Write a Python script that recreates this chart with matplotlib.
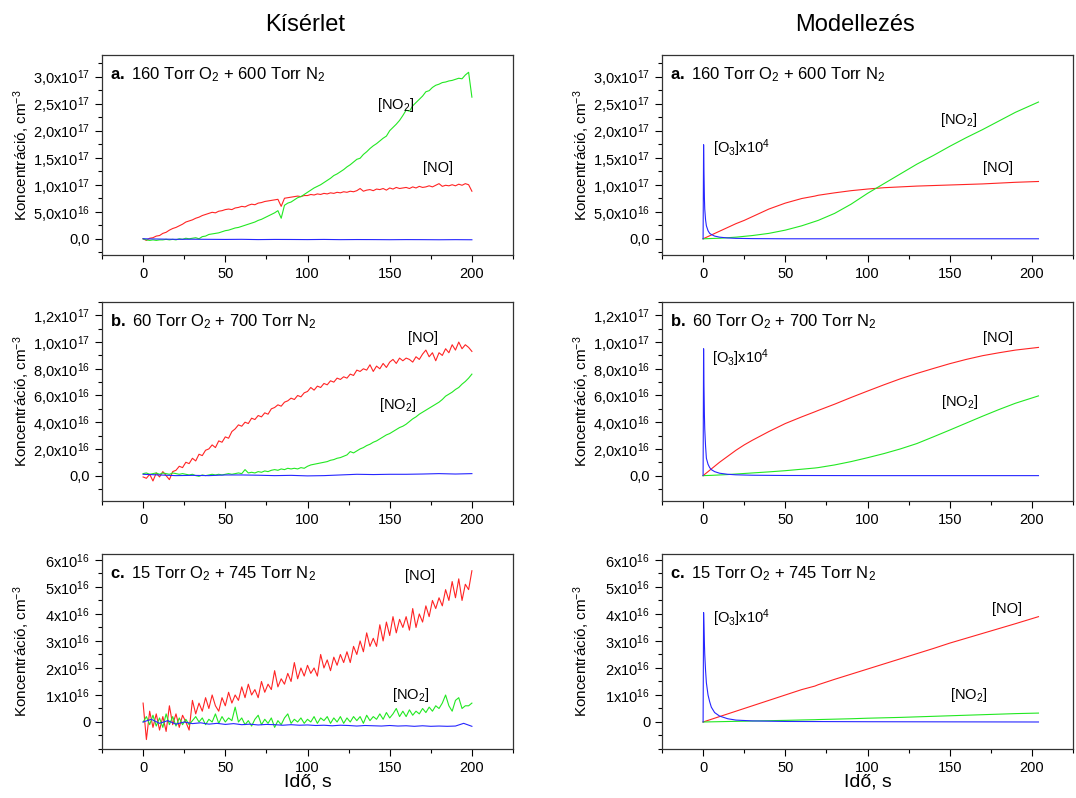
import numpy as np
import matplotlib
matplotlib.use("Agg")
import matplotlib.pyplot as plt
from matplotlib.ticker import FuncFormatter, MultipleLocator

plt.rcParams['font.family'] = ['Liberation Sans', 'DejaVu Sans']
plt.rcParams['mathtext.fontset'] = 'custom'
plt.rcParams['mathtext.rm'] = 'Liberation Sans'
plt.rcParams['mathtext.it'] = 'Liberation Sans:italic'
plt.rcParams['mathtext.bf'] = 'Liberation Sans:bold'

RED = '#ff2424'
GREEN = '#22e822'
BLUE = '#2626ff'

# ---- measured data (Kísérlet) ----
t_exp = np.arange(0, 201, 2)       # s
t_exp_blue = np.arange(0, 201, 10)
t_exp_blue_c = np.arange(0, 201, 5)

# a. 160 Torr O2, units of 1e17 cm-3
exp_a_no = [0.00, -0.03, 0.01, 0.02, 0.05, 0.06, 0.10, 0.12, 0.16, 0.19,
            0.21, 0.24, 0.27, 0.31, 0.33, 0.35, 0.38, 0.40, 0.43, 0.45,
            0.47, 0.49, 0.48, 0.51, 0.52, 0.54, 0.55, 0.54, 0.57, 0.58,
            0.60, 0.59, 0.62, 0.64, 0.63, 0.66, 0.67, 0.69, 0.70, 0.71,
            0.72, 0.73, 0.60, 0.75, 0.76, 0.77, 0.78, 0.79, 0.78, 0.80,
            0.80, 0.82, 0.81, 0.83, 0.82, 0.84, 0.83, 0.85, 0.84, 0.86,
            0.85, 0.87, 0.86, 0.88, 0.87, 0.89, 0.93, 0.88, 0.90, 0.91,
            0.89, 0.92, 0.91, 0.93, 0.90, 0.94, 0.92, 0.95, 0.93, 0.94,
            0.95, 0.93, 0.96, 0.94, 0.97, 0.95, 0.96, 0.98, 0.96, 0.99,
            1.02, 0.97, 0.99, 0.98, 1.00, 0.98, 1.01, 0.99, 1.02, 1.00,
            0.88]
exp_a_no2 = [0.00, -0.02, -0.03, -0.02, -0.03, -0.02, -0.02, -0.01, -0.02, -0.01,
             -0.02, 0.00, -0.01, 0.01, 0.00, 0.01, 0.02, 0.00, 0.04, 0.05,
             0.08, 0.09, 0.10, 0.11, 0.13, 0.15, 0.16, 0.18, 0.20, 0.21,
             0.23, 0.25, 0.27, 0.29, 0.31, 0.34, 0.36, 0.39, 0.42, 0.45,
             0.48, 0.52, 0.38, 0.62, 0.66, 0.68, 0.72, 0.76, 0.78, 0.82,
             0.86, 0.90, 0.94, 0.97, 1.00, 1.04, 1.08, 1.12, 1.17, 1.20,
             1.24, 1.28, 1.33, 1.37, 1.42, 1.47, 1.49, 1.56, 1.61, 1.67,
             1.72, 1.76, 1.81, 1.86, 1.90, 2.00, 2.06, 2.12, 2.19, 2.28,
             2.38, 2.36, 2.46, 2.52, 2.58, 2.64, 2.72, 2.74, 2.80, 2.84,
             2.86, 2.89, 2.90, 2.92, 2.93, 2.95, 2.97, 2.96, 3.03, 3.08,
             2.62]
exp_a_o3 = [0.0, -0.005, -0.01, -0.008, -0.01, -0.012, -0.01, -0.015, -0.012, -0.013,
            -0.015, -0.012, -0.016, -0.014, -0.015, -0.017, -0.015, -0.016, -0.018, -0.016,
            -0.018]

# b. 60 Torr O2, units of 1e16 cm-3
exp_b_no = [-0.1, -0.2, 0.1, -0.4, 0.2, -0.1, 0.3, 0.0, -0.3, 0.3,
            0.4, 0.7, 0.6, 1.0, 0.9, 1.3, 1.1, 1.6, 1.5, 1.9,
            2.0, 2.3, 2.1, 2.6, 2.5, 2.9, 2.8, 3.3, 3.5, 3.8,
            3.7, 4.0, 3.9, 4.3, 4.2, 4.5, 4.4, 4.7, 4.6, 5.0,
            5.1, 5.3, 5.2, 5.5, 5.6, 5.8, 5.7, 6.0, 5.9, 6.2,
            6.3, 6.6, 6.4, 6.7, 6.6, 6.9, 6.8, 7.1, 7.0, 7.3,
            7.2, 7.4, 7.3, 7.6, 7.5, 7.9, 7.8, 8.0, 7.9, 8.3,
            7.8, 8.2, 8.0, 8.4, 8.1, 8.5, 8.7, 8.4, 8.8, 8.6,
            8.8, 8.7, 8.5, 8.9, 8.7, 9.1, 9.4, 8.9, 9.2, 8.6,
            9.2, 9.0, 9.5, 9.2, 9.8, 9.4, 10.0, 9.5, 9.8, 9.6,
            9.3]
exp_b_no2 = [0.15, 0.2, 0.1, 0.15, 0.2, 0.1, 0.2, 0.15, 0.1, 0.2,
             0.15, 0.1, 0.15, 0.1, 0.05, 0.1, 0.0, -0.05, 0.05, 0.0,
             0.05, 0.1, 0.05, 0.1, 0.05, 0.1, 0.15, 0.1, 0.15, 0.2,
             0.15, 0.45, 0.2, 0.25, 0.2, 0.3, 0.25, 0.35, 0.3, 0.4,
             0.45, 0.4, 0.5, 0.45, 0.55, 0.5, 0.55, 0.5, 0.6, 0.55,
             0.7, 0.8, 0.85, 0.9, 0.95, 1.0, 1.05, 1.15, 1.2, 1.3,
             1.35, 1.45, 1.55, 1.8, 1.7, 1.85, 2.0, 2.1, 2.25, 2.35,
             2.5, 2.6, 2.75, 2.9, 3.05, 3.15, 3.3, 3.45, 3.6, 3.7,
             3.85, 4.05, 4.25, 4.4, 4.6, 4.75, 4.9, 5.05, 5.2, 5.35,
             5.5, 5.7, 5.95, 6.1, 6.25, 6.45, 6.6, 6.85, 7.05, 7.3,
             7.6]
exp_b_o3 = [0.1, 0.05, 0.0, 0.02, 0.0, 0.05, 0.05, 0.03, 0.0, 0.02,
            -0.02, 0.0, 0.05, 0.1, 0.08, 0.1, 0.1, 0.12, 0.15, 0.12,
            0.15]

# c. 15 Torr O2, units of 1e16 cm-3
exp_c_no = [0.7, -0.65, 0.4, -0.2, 0.3, -0.3, 0.2, -0.35, 0.6, -0.1,
            0.3, -0.2, 0.25, 0.0, -0.3, 0.8, 0.3, 0.7, 0.4, 0.9,
            0.5, 1.0, 0.6, 0.4, 0.9, 0.6, 1.1, 0.7, 1.0, 0.8,
            1.3, 0.9, 1.4, 1.0, 1.2, 0.9, 1.5, 1.1, 1.4, 1.2,
            1.9, 1.3, 1.6, 1.4, 1.8, 1.5, 2.2, 1.6, 2.0, 1.7,
            2.1, 1.8, 2.0, 1.7, 2.5, 2.0, 2.3, 1.9, 2.4, 2.1,
            2.5, 2.2, 2.6, 2.2, 2.8, 2.5, 3.0, 2.6, 3.3, 2.8,
            3.1, 2.8, 3.6, 3.0, 3.7, 3.2, 3.9, 3.3, 3.8, 3.5,
            3.9, 3.4, 4.2, 3.5, 4.0, 3.7, 4.3, 3.9, 4.5, 4.2,
            4.6, 4.3, 4.9, 4.5, 5.2, 4.6, 5.3, 4.5, 5.1, 4.9,
            5.6]
exp_c_no2 = [0.0, 0.2, -0.1, 0.25, -0.15, 0.15, -0.2, 0.3, -0.1, 0.2,
             -0.15, 0.15, -0.1, 0.1, -0.1, 0.05, 0.2, 0.0, 0.15, -0.1,
             0.1, 0.0, 0.3, -0.05, 0.2, 0.0, 0.15, 0.05, 0.55, 0.0,
             0.15, -0.1, 0.05, -0.15, 0.1, 0.25, -0.1, 0.1, -0.05, 0.15,
             -0.2, 0.05, -0.1, 0.15, 0.3, -0.05, 0.1, 0.0, 0.15, -0.05,
             0.1, 0.0, 0.2, -0.05, 0.15, 0.05, 0.2, -0.05, 0.15, 0.0,
             0.2, -0.05, 0.15, 0.0, 0.2, 0.05, 0.2, -0.05, 0.25, 0.05,
             0.2, 0.1, 0.3, 0.1, 0.35, 0.15, 0.3, 0.5, 0.2, 0.4,
             0.2, 0.45, 0.25, 0.4, 0.3, 0.5, 0.35, 0.55, 0.4, 0.6,
             0.5, 0.7, 1.0, 0.6, 0.4, 0.8, 0.9, 0.5, 0.6, 0.6,
             0.7]
exp_c_o3 = [0.0, 0.1, -0.05, 0.05, -0.08, 0.0, -0.06, -0.03, -0.08, -0.05,
            -0.09, -0.06, -0.1, -0.08, -0.11, -0.09, -0.1, -0.12, -0.1, -0.12,
            -0.11, -0.13, -0.12, -0.14, -0.12, -0.13, -0.15, -0.13, -0.14, -0.15,
            -0.13, -0.15, -0.14, -0.16, -0.14, -0.16, -0.15, -0.16, -0.15, -0.05,
            -0.16]

# ---- model results (Modellezés) ----
t_mod = [0, 5, 10, 15, 20, 25, 30, 40, 50, 60, 68, 70, 80, 90, 100, 110,
         120, 130, 140, 150, 160, 170, 180, 190, 204]
t_o3 = [0, 0.3, 0.5, 0.8, 1, 1.5, 2, 3, 4, 5, 7, 10, 15, 20, 30, 50, 100, 204]

# units of 1e17
mod_a_no = [0, 0.07, 0.14, 0.21, 0.28, 0.34, 0.41, 0.55, 0.66, 0.745, 0.79, 0.805,
            0.85, 0.89, 0.92, 0.945, 0.96, 0.975, 0.985, 0.995, 1.005, 1.015,
            1.03, 1.045, 1.06]
mod_a_no2 = [0, 0.005, 0.01, 0.02, 0.03, 0.045, 0.06, 0.10, 0.16, 0.24, 0.32, 0.34,
             0.47, 0.64, 0.84, 1.02, 1.2, 1.38, 1.54, 1.71, 1.87, 2.02,
             2.18, 2.34, 2.53]
mod_a_o3 = [0, 1.74, 1.3, 0.75, 0.55, 0.35, 0.24, 0.15, 0.1, 0.08, 0.05, 0.03,
            0.015, 0.008, 0.003, 0.0, 0.0, 0.0]

# units of 1e16
mod_b_no = [0, 0.5, 1.0, 1.45, 1.9, 2.3, 2.65, 3.3, 3.9, 4.4, 4.78, 4.88,
            5.35, 5.85, 6.33, 6.8, 7.25, 7.65, 8.02, 8.38, 8.7, 8.98,
            9.2, 9.4, 9.6]
mod_b_no2 = [0, 0.02, 0.05, 0.08, 0.12, 0.16, 0.2, 0.28, 0.37, 0.48, 0.57, 0.6,
             0.8, 1.05, 1.34, 1.65, 2.0, 2.4, 2.9, 3.41, 3.93, 4.45,
             4.95, 5.42, 5.97]
mod_b_o3 = [0, 9.5, 7.0, 4.5, 3.5, 2.2, 1.3, 0.85, 0.6, 0.45, 0.3, 0.18,
            0.1, 0.06, 0.03, 0.01, 0.0, 0.0]

mod_c_no = [0, 0.1, 0.2, 0.3, 0.4, 0.5, 0.6, 0.8, 1.0, 1.2, 1.33, 1.38,
            1.58, 1.77, 1.96, 2.15, 2.34, 2.53, 2.72, 2.92, 3.1, 3.28,
            3.46, 3.64, 3.9]
mod_c_no2 = [0, 0.006, 0.012, 0.018, 0.024, 0.03, 0.036, 0.048, 0.06, 0.075, 0.085, 0.09,
             0.105, 0.12, 0.14, 0.155, 0.17, 0.19, 0.21, 0.23, 0.25, 0.27,
             0.29, 0.31, 0.33]
mod_c_o3 = [0, 4.05, 3.6, 2.9, 2.5, 1.9, 1.45, 1.0, 0.75, 0.55, 0.35, 0.22,
            0.12, 0.07, 0.04, 0.02, 0.01, 0.0]

panel_titles = [r"$\mathbf{a.}$ 160 Torr O$_2$ + 600 Torr N$_2$",
                r"$\mathbf{b.}$ 60 Torr O$_2$ + 700 Torr N$_2$",
                r"$\mathbf{c.}$ 15 Torr O$_2$ + 745 Torr N$_2$"]

# y range, labelled ticks and tick-label decimals for each row
ylims = [(-0.3e17, 3.4e17), (-0.19e17, 1.3e17), (-1.0e16, 6.22e16)]
yticks = [np.arange(0, 3.01e17, 0.5e17), np.arange(0, 1.21e17, 0.2e17),
          np.arange(0, 6.01e16, 1e16)]
decs = [1, 1, 0]


def conc_formatter(decimals):
    def fmt(v, pos):
        if abs(v) < 1e10:
            return "0,0" if decimals else "0"
        e = int(np.floor(np.log10(abs(v)) + 1e-9))
        m = v / 10.0**e
        return f"{m:.{decimals}f}".replace(".", ",") + r"x10$^{%d}$" % e
    return FuncFormatter(fmt)


def setup_axes(ax, ylim, ticks, decimals, title):
    ax.set_xlim(-25, 225)
    ax.set_ylim(*ylim)
    ax.xaxis.set_major_locator(MultipleLocator(50))
    ax.xaxis.set_minor_locator(MultipleLocator(25))
    ax.set_yticks(ticks)
    ax.yaxis.set_minor_locator(MultipleLocator((ticks[1] - ticks[0]) / 2))
    ax.yaxis.set_major_formatter(conc_formatter(decimals))
    ax.tick_params(which='both', direction='out', top=False, right=False,
                   labelsize=10.5, width=0.8)
    ax.tick_params(which='major', length=5)
    ax.tick_params(which='minor', length=3)
    for s in ax.spines.values():
        s.set_linewidth(0.9)
        s.set_color('#333333')
    ax.set_ylabel("Koncentráció, cm$^{-3}$", fontsize=11)
    ax.yaxis.set_label_coords(-0.17, 0.5)
    ax.text(0.02, 0.9, title, transform=ax.transAxes, fontsize=12,
            ha='left', va='center')


fig = plt.figure(figsize=(10.76, 7.98), dpi=100)
W, H = 1076.0, 798.0
rows = [(55, 255), (302, 501), (554, 749)]
cols = [(102, 513), (662, 1073)]
axes = {}
for i, (top, bot) in enumerate(rows):
    for j, (left, right) in enumerate(cols):
        axes[i, j] = fig.add_axes([left / W, 1 - bot / H, (right - left) / W, (bot - top) / H])

lw = 0.8

# experiment column
ax = axes[0, 0]
ax.plot(t_exp, np.array(exp_a_no) * 1e17, color=RED, lw=lw)
ax.plot(t_exp, np.array(exp_a_no2) * 1e17, color=GREEN, lw=lw)
ax.plot(t_exp_blue, np.array(exp_a_o3) * 1e17, color=BLUE, lw=lw)
ax.text(142, 2.48e17, "[NO$_2$]", fontsize=10.5, va='center')
ax.text(170, 1.31e17, "[NO]", fontsize=10.5, va='center')

ax = axes[1, 0]
ax.plot(t_exp, np.array(exp_b_no) * 1e16, color=RED, lw=lw)
ax.plot(t_exp, np.array(exp_b_no2) * 1e16, color=GREEN, lw=lw)
ax.plot(t_exp_blue, np.array(exp_b_o3) * 1e16, color=BLUE, lw=lw)
ax.text(161, 10.3e16, "[NO]", fontsize=10.5, va='center')
ax.text(143.5, 5.3e16, "[NO$_2$]", fontsize=10.5, va='center')

ax = axes[2, 0]
ax.plot(t_exp, np.array(exp_c_no) * 1e16, color=RED, lw=lw)
ax.plot(t_exp, np.array(exp_c_no2) * 1e16, color=GREEN, lw=lw)
ax.plot(t_exp_blue_c, np.array(exp_c_o3) * 1e16, color=BLUE, lw=lw)
ax.text(159.5, 5.4e16, "[NO]", fontsize=10.5, va='center')
ax.text(151.5, 1.0e16, "[NO$_2$]", fontsize=10.5, va='center')

# model column
ax = axes[0, 1]
ax.plot(t_mod, np.array(mod_a_no) * 1e17, color=RED, lw=lw)
ax.plot(t_mod, np.array(mod_a_no2) * 1e17, color=GREEN, lw=lw)
ax.plot(t_o3, np.array(mod_a_o3) * 1e17, color=BLUE, lw=lw)
ax.text(6, 1.68e17, "[O$_3$]x10$^4$", fontsize=10.5, va='center')
ax.text(144, 2.2e17, "[NO$_2$]", fontsize=10.5, va='center')
ax.text(170, 1.31e17, "[NO]", fontsize=10.5, va='center')

ax = axes[1, 1]
ax.plot(t_mod, np.array(mod_b_no) * 1e16, color=RED, lw=lw)
ax.plot(t_mod, np.array(mod_b_no2) * 1e16, color=GREEN, lw=lw)
ax.plot(t_o3, np.array(mod_b_o3) * 1e16, color=BLUE, lw=lw)
ax.text(5.5, 8.8e16, "[O$_3$]x10$^4$", fontsize=10.5, va='center')
ax.text(170, 10.3e16, "[NO]", fontsize=10.5, va='center')
ax.text(145, 5.5e16, "[NO$_2$]", fontsize=10.5, va='center')

ax = axes[2, 1]
ax.plot(t_mod, np.array(mod_c_no) * 1e16, color=RED, lw=lw)
ax.plot(t_mod, np.array(mod_c_no2) * 1e16, color=GREEN, lw=lw)
ax.plot(t_o3, np.array(mod_c_o3) * 1e16, color=BLUE, lw=lw)
ax.text(6, 3.85e16, "[O$_3$]x10$^4$", fontsize=10.5, va='center')
ax.text(176, 4.2e16, "[NO]", fontsize=10.5, va='center')
ax.text(150, 1.0e16, "[NO$_2$]", fontsize=10.5, va='center')

for i in range(3):
    for j in range(2):
        setup_axes(axes[i, j], ylims[i], yticks[i], decs[i], panel_titles[i])
for j in range(2):
    axes[2, j].set_xlabel("Idő, s", fontsize=14)
    axes[2, j].xaxis.set_label_coords(0.5, -0.125)

fig.text(305 / W, 1 - 25 / H, "Kísérlet", fontsize=17, ha='center', va='center')
fig.text(855 / W, 1 - 25 / H, "Modellezés", fontsize=17, ha='center', va='center')

fig.savefig("out.png", dpi=100)
